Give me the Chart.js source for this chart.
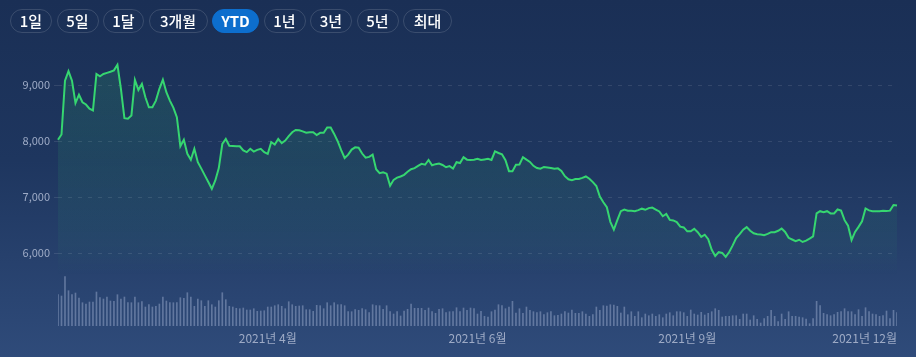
<!DOCTYPE html>
<html><head><meta charset="utf-8">
<script src="https://cdn.jsdelivr.net/npm/chart.js@4.4.1/dist/chart.umd.min.js"></script>
<style>
html,body{margin:0;padding:0;width:916px;height:357px;overflow:hidden}
body{background:linear-gradient(180deg,#1a2f55 0%,#1e365f 45%,#2f4b7a 100%);font-family:'Noto Sans CJK KR','Noto Sans',sans-serif;position:relative}
#btns{position:absolute;left:10px;top:9px;display:flex;gap:4.5px;z-index:2}
.b{height:24px;box-sizing:border-box;border:1px solid rgba(255,255,255,0.14);border-radius:12px;color:#fff;font-size:15px;line-height:22px;text-align:center;font-weight:500}
.b.on{background:#0d6ecd;border-color:#0d6ecd;font-weight:700}
#c{position:absolute;left:0;top:0;z-index:1}
</style></head>
<body>
<div id="btns">
<div class="b" style="width:42px">1일</div>
<div class="b" style="width:42px">5일</div>
<div class="b" style="width:41px">1달</div>
<div class="b" style="width:59px">3개월</div>
<div class="b on" style="width:47px">YTD</div>
<div class="b" style="width:42px">1년</div>
<div class="b" style="width:42px">3년</div>
<div class="b" style="width:42px">5년</div>
<div class="b" style="width:49px">최대</div>
</div>
<canvas id="c" width="916" height="357"></canvas>
<script>
const prices = [
8025,8120,9080,9250,9080,8680,8830,8695,8655,8580,
8550,9200,9160,9200,9220,9240,9265,9365,8935,8410,
8400,8460,9095,8915,9025,8785,8605,8605,8725,8935,
9100,8875,8725,8600,8430,7910,8025,7775,7667,7865,
7625,7510,7390,7270,7150,7300,7520,7950,8040,7920,
7915,7910,7910,7835,7805,7865,7815,7845,7865,7805,
7775,7985,7940,8040,7965,8010,8090,8160,8200,8195,
8175,8150,8160,8160,8110,8150,8150,8245,8245,8130,
8000,7840,7700,7760,7850,7890,7885,7780,7705,7720,
7760,7500,7430,7445,7420,7205,7310,7350,7370,7400,
7455,7500,7520,7560,7595,7580,7665,7570,7590,7600,
7575,7535,7555,7510,7625,7610,7715,7670,7665,7670,
7685,7665,7675,7685,7665,7820,7790,7765,7660,7465,
7465,7580,7585,7715,7670,7630,7560,7520,7510,7540,
7530,7520,7510,7515,7470,7375,7320,7305,7325,7325,
7345,7370,7330,7270,7200,7010,6910,6820,6560,6420,
6590,6750,6780,6760,6760,6750,6770,6795,6775,6805,
6815,6780,6745,6660,6700,6595,6585,6555,6475,6460,
6390,6390,6435,6375,6290,6330,6250,6060,5950,6020,
6005,5935,6020,6140,6270,6340,6420,6465,6400,6355,
6340,6335,6320,6345,6375,6375,6400,6440,6380,6275,
6245,6215,6240,6200,6225,6260,6300,6710,6750,6730,
6750,6710,6710,6780,6760,6590,6490,6235,6380,6470,
6570,6800,6765,6750,6750,6750,6760,6755,6760,6860,
6850];
const volumes = [
3130,3000,4930,3530,3130,3300,2800,2330,2200,2400,
2400,3400,2830,2700,2900,2500,2470,3130,2700,2900,
2330,2330,2900,2330,2430,1900,2130,1900,1970,2200,
2900,2500,2330,2330,2330,2830,2770,3330,2900,1970,
2700,2530,1970,2530,2130,1900,2530,3330,2630,1970,
1900,1770,1730,1800,1600,1600,1730,1470,1500,1530,
1900,1900,2030,2130,1970,1730,2430,2130,1970,2000,
2030,1630,1630,1470,2070,
2030,1730,2330,2030,2330,2130,2130,2030,1430,1430,
1630,1570,1730,1630,1330,2130,2030,2030,1670,2030,
1430,1200,1430,1000,1500,1670,2200,1770,1770,1770,1570,
1800,1430,1270,1670,1730,1330,1430,1430,1830,1430,
1800,1570,1800,1730,1200,1470,970,900,1430,1600,2130,
2030,1730,1900,2470,1300,1730,1270,1900,1570,1430,
1330,1430,1130,1330,1430,1030,1070,1200,1430,1300,1600,
1270,1270,1430,1200,970,1130,1900,1570,
2030,2000,2130,2100,1970,1300,
1900,1130,1430,970,1430,830,1200,1030,1200,970,
1130,830,1200,1330,1030,1430,1430,1330,970,1600,
1200,1100,1370,1100,1270,1430,1730,1570,900,970,
970,1030,1030,670,1200,1200,600,1030,670,300,
730,970,1570,970,430,1200,670,1430,970,970,
900,830,700,230,730,2470,2030,1270,1130,1030,
1130,1370,1430,1730,1430,1430,1130,1630,970,1830,
1430,1200,1130,970,1030,1500,730,1570,1330];
const tickIndex = [0, 60, 120, 180, 240];
const tickLabels = ['', '2021년 4월', '2021년 6월', '2021년 9월', '2021년 12월'];
const priceTicks = [6000, 7000, 8000, 9000];
const categories = prices.map((_, i) => String(i));

const FONT = "'Noto Sans CJK KR','Noto Sans',sans-serif";
const labelColor = '#9eabc6';

new Chart(document.getElementById('c'), {
  data: {
    labels: categories,
    datasets: [
      {
        type: 'line', data: prices, yAxisID: 'y', order: 0,
        borderColor: '#36d670', borderWidth: 2, pointRadius: 0, tension: 0,
        fill: 'start',
        backgroundColor: (ctx) => {
          const ch = ctx.chart, a = ch.chartArea;
          if (!a) return 'transparent';
          const g = ch.ctx.createLinearGradient(0, 60, 0, 275);
          g.addColorStop(0, 'rgba(56,214,112,0.15)');
          g.addColorStop(0.85, 'rgba(56,214,112,0.05)');
          g.addColorStop(1, 'rgba(56,214,112,0)');
          return g;
        }
      },
      {
        type: 'bar', data: volumes, yAxisID: 'v', order: 1,
        backgroundColor: 'rgba(165,180,212,0.45)', barThickness: 1
      }
    ]
  },
  options: {
    responsive: false, animation: false,
    layout: { padding: { top: 46, right: 19, left: 0, bottom: 0 } },
    plugins: { legend: { display: false }, tooltip: { enabled: false } },
    scales: {
      x: {
        type: 'category', offset: false,
        grid: { display: false, drawTicks: false },
        border: { display: false },
        afterBuildTicks: (s) => { s.ticks = s.ticks.filter(t => tickIndex.includes(t.value)); },
        afterFit: (s) => { s.height = 31; },
        ticks: {
          autoSkip: false, maxRotation: 0, align: 'inner', padding: 5,
          color: labelColor, font: { family: FONT, size: 12 },
          callback: (v) => { const k = tickIndex.indexOf(v); return k >= 0 ? tickLabels[k] : ''; }
        }
      },
      y: {
        type: 'linear', position: 'left', min: 4700, max: 9700,
        afterBuildTicks: (s) => { s.ticks = priceTicks.map(v => ({ value: v })); },
        afterFit: (s) => { s.width = 58; },
        grid: { color: 'rgba(255,255,255,0.10)', drawTicks: true, tickLength: 4, tickColor: 'rgba(255,255,255,0.10)', tickBorderDash: [4, 6] },
        border: { display: false, dash: [4, 6] },
        ticks: {
          padding: 4, color: labelColor, font: { family: FONT, size: 11 },
          callback: (v) => v.toLocaleString('en-US')
        }
      },
      v: {
        type: 'linear', display: false, min: 0, max: 28000
      }
    }
  }
});
</script>
</body></html>
